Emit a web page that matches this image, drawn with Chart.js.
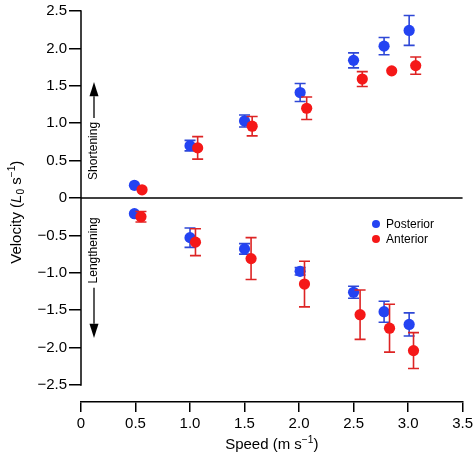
<!DOCTYPE html>
<html>
<head>
<meta charset="utf-8">
<script src="https://cdn.jsdelivr.net/npm/chart.js@4.4.1/dist/chart.umd.min.js"></script>
<style>
  html, body { margin: 0; padding: 0; background: #fff; }
  #wrap { width: 476px; height: 458px; }
</style>
</head>
<body>
<div id="wrap"><canvas id="velChart"></canvas></div>
<script>
// Posterior (blue)
const postSpeed = [0.49, 1.0, 1.5, 2.01, 2.5, 2.78, 3.01];
const postShorten = [0.17, 0.70, 1.03, 1.41, 1.84, 2.03, 2.24];
const postShortenErr = [0, 0.07, 0.08, 0.12, 0.10, 0.115, 0.20];
const postLengthen = [-0.21, -0.53, -0.68, -0.98, -1.26, -1.52, -1.69];
const postLengthenErr = [0, 0.13, 0.07, 0.05, 0.08, 0.14, 0.155];

// Anterior (red)
const antSpeedShorten = [0.56, 1.07, 1.57, 2.07, 2.58, 2.85, 3.07];
const antShorten = [0.11, 0.67, 0.96, 1.20, 1.59, 1.70, 1.77];
const antShortenErr = [0, 0.15, 0.13, 0.15, 0.10, 0, 0.115];
const antSpeedLengthen = [0.55, 1.05, 1.56, 2.05, 2.56, 2.83, 3.05];
const antLengthen = [-0.25, -0.59, -0.81, -1.15, -1.56, -1.74, -2.04];
const antLengthenErr = [0.07, 0.18, 0.28, 0.305, 0.33, 0.32, 0.24];

const xTicks = [0, 0.5, 1.0, 1.5, 2.0, 2.5, 3.0, 3.5];
const yTicks = [-2.5, -2.0, -1.5, -1.0, -0.5, 0, 0.5, 1.0, 1.5, 2.0, 2.5];

const FONT = "'Liberation Sans', Arial, Helvetica, sans-serif";
const BLUE = "#2443f2";
const BLUE_BAR = "#2f48d6";
const RED = "#f51818";
const RED_BAR = "#dd2424";

function points(xs, ys, errs) {
  return xs.map((x, i) => ({ x: x, y: ys[i], err: errs[i] }));
}

const fmt = (v) => {
  if (v === 0) return "0";
  const s = Math.abs(v).toFixed(1);
  return v < 0 ? "\u2212" + s : s;
};

// text with italic / sub / sup pieces
function drawRich(ctx, parts, x, y, size) {
  const fontFor = (p) => {
    const small = p[1] === "sub" || p[1] === "sup";
    const sz = small ? size * 0.68 : size;
    return (p[1] === "italic" ? "italic " : "") + sz + "px " + FONT;
  };
  let total = 0;
  parts.forEach((p) => { ctx.font = fontFor(p); total += ctx.measureText(p[0]).width; });
  let cx = x - total / 2;
  ctx.textAlign = "left";
  ctx.textBaseline = "alphabetic";
  parts.forEach((p) => {
    ctx.font = fontFor(p);
    let dy = 0;
    if (p[1] === "sup") dy = -size * 0.38;
    if (p[1] === "sub") dy = size * 0.22;
    ctx.fillText(p[0], cx, y + dy);
    cx += ctx.measureText(p[0]).width;
  });
}

function arrow(ctx, x, yFrom, yTip, yBase) {
  ctx.beginPath();
  ctx.moveTo(x, yFrom);
  ctx.lineTo(x, yBase);
  ctx.stroke();
  ctx.beginPath();
  ctx.moveTo(x, yTip);
  ctx.lineTo(x - 4.5, yBase);
  ctx.lineTo(x + 4.5, yBase);
  ctx.closePath();
  ctx.fill();
}

const errorBars = {
  id: "errorBars",
  beforeDatasetDraw(chart, args) {
    const ctx = chart.ctx;
    const ds = chart.data.datasets[args.index];
    const y = chart.scales.y;
    ctx.save();
    ctx.strokeStyle = ds.barColor;
    ctx.lineWidth = 1.6;
    args.meta.data.forEach((el, i) => {
      const p = ds.data[i];
      if (!p.err) return;
      const top = y.getPixelForValue(p.y + p.err);
      const bot = y.getPixelForValue(p.y - p.err);
      ctx.beginPath();
      ctx.moveTo(el.x, top); ctx.lineTo(el.x, bot);
      ctx.moveTo(el.x - 5.5, top); ctx.lineTo(el.x + 5.5, top);
      ctx.moveTo(el.x - 5.5, bot); ctx.lineTo(el.x + 5.5, bot);
      ctx.stroke();
    });
    ctx.restore();
  }
};

const decor = {
  id: "decor",
  beforeDatasetsDraw(chart) {
    const { ctx, chartArea, scales: { y } } = chart;
    ctx.save();
    ctx.strokeStyle = "#000";
    ctx.fillStyle = "#000";
    ctx.lineWidth = 1.5;
    // y axis line only over the tick range
    ctx.beginPath();
    ctx.moveTo(chartArea.left, y.getPixelForValue(yTicks[yTicks.length - 1]) - 0.75);
    ctx.lineTo(chartArea.left, y.getPixelForValue(yTicks[0]) + 0.75);
    ctx.stroke();
    // zero line
    ctx.beginPath();
    ctx.moveTo(chartArea.left, y.getPixelForValue(0));
    ctx.lineTo(chartArea.right, y.getPixelForValue(0));
    ctx.stroke();

    // shortening / lengthening
    const ax = chartArea.left + 13;
    ctx.lineWidth = 1.3;
    arrow(ctx, ax, y.getPixelForValue(1.07), y.getPixelForValue(1.55), y.getPixelForValue(1.36));
    arrow(ctx, ax, y.getPixelForValue(-1.20), y.getPixelForValue(-1.87), y.getPixelForValue(-1.68));
    ctx.font = "12px " + FONT;
    ctx.textAlign = "center";
    ctx.textBaseline = "middle";
    [["Shortening", 0.63], ["Lengthening", -0.70]].forEach((t) => {
      ctx.save();
      ctx.translate(ax, y.getPixelForValue(t[1]));
      ctx.rotate(-Math.PI / 2);
      ctx.fillText(t[0], 0, 0);
      ctx.restore();
    });

    // axis titles
    drawRich(ctx, [["Speed (m s", ""], ["\u22121", "sup"], [")", ""]],
      (chartArea.left + chartArea.right) / 2, 449, 15);
    ctx.save();
    ctx.translate(21, y.getPixelForValue(-0.19));
    ctx.rotate(-Math.PI / 2);
    drawRich(ctx, [["Velocity (", ""], ["L", "italic"], ["0", "sub"], [" s", ""], ["\u22121", "sup"], [")", ""]], 0, 0, 15);
    ctx.restore();

    // legend
    const lx = chartArea.left + 295;
    const legendItems = [chart.data.datasets[0], chart.data.datasets[1]];
    ctx.font = "12px " + FONT;
    ctx.textAlign = "left";
    ctx.textBaseline = "middle";
    legendItems.forEach((ds, i) => {
      const ly = 224 + i * 15;
      ctx.fillStyle = ds.backgroundColor;
      ctx.beginPath();
      ctx.arc(lx, ly, 4, 0, Math.PI * 2);
      ctx.fill();
      ctx.fillStyle = "#000";
      ctx.fillText(ds.label, lx + 10, ly + 0.5);
    });
    ctx.restore();
  }
};

new Chart(document.getElementById("velChart").getContext("2d"), {
  type: "scatter",
  data: {
    datasets: [
      {
        label: "Posterior",
        data: points(postSpeed, postShorten, postShortenErr)
          .concat(points(postSpeed, postLengthen, postLengthenErr)),
        backgroundColor: BLUE,
        barColor: BLUE_BAR,
        pointRadius: 5.6,
        pointBorderWidth: 0,
        order: 1,
      },
      {
        label: "Anterior",
        data: points(antSpeedShorten, antShorten, antShortenErr)
          .concat(points(antSpeedLengthen, antLengthen, antLengthenErr)),
        backgroundColor: RED,
        barColor: RED_BAR,
        pointRadius: 5.6,
        pointBorderWidth: 0,
        order: 0,
      },
    ],
  },
  options: {
    responsive: true,
    maintainAspectRatio: false,
    animation: false,
    layout: { padding: { top: 11, right: 12, left: 0, bottom: 0 } },
    plugins: {
      legend: { display: false },
      tooltip: { enabled: false },
    },
    scales: {
      x: {
        type: "linear",
        min: 0,
        max: 3.5,
        afterBuildTicks: (s) => { s.ticks = xTicks.map((v) => ({ value: v })); },
        afterFit: (s) => { s.height = 56; },
        grid: { drawOnChartArea: false, color: "#000", lineWidth: 1.5, tickLength: 10 },
        border: { display: true, color: "#000", width: 1.5 },
        ticks: { color: "#000", font: { family: FONT, size: 15 }, padding: 3, callback: (v) => fmt(v), maxRotation: 0 },
      },
      y: {
        type: "linear",
        min: -2.727,
        max: 2.5,
        afterBuildTicks: (s) => { s.ticks = yTicks.map((v) => ({ value: v })); },
        afterFit: (s) => { s.width = 81; },
        grid: { drawOnChartArea: false, color: "#000", lineWidth: 1.5, tickLength: 12 },
        border: { display: false },
        ticks: { color: "#000", font: { family: FONT, size: 15 }, padding: 2, callback: (v) => fmt(v) },
      },
    },
  },
  plugins: [errorBars, decor],
});
</script>
</body>
</html>
